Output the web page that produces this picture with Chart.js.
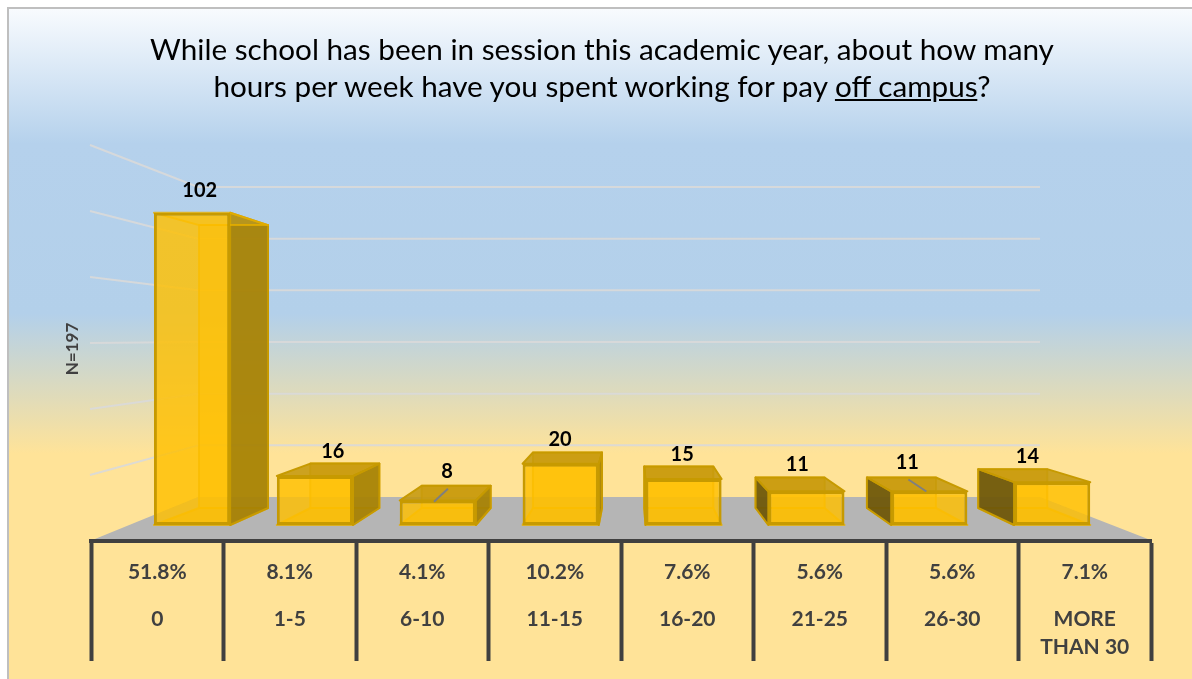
<!DOCTYPE html>
<html>
<head>
<meta charset="utf-8">
<script src="https://cdn.jsdelivr.net/npm/chart.js@4"></script>
<style>
  html, body { margin: 0; background: #fff; }
  #panel {
    position: absolute; left: 7px; top: 7px; width: 1185px; height: 672px;
    box-sizing: border-box; border: solid #bfbfbf; border-width: 2px 0 0 2px;
    background: linear-gradient(to bottom, #f8fbfe 0, #b5d1ec 135px, #b3d0ea 305px, #ffe398 445px, #ffe398 100%);
  }
  #title {
    position: absolute; left: 7px; top: 30px; width: 1190px; margin: 0;
    font: 400 29.7px/37px Lato, sans-serif; color: #000; text-align: center;
  }
  canvas { position: absolute; left: 0; top: 0; }
</style>
</head>
<body>
<div id="panel"></div>
<canvas id="myChart" width="1192" height="679"></canvas>
<h1 id="title">While school has been in session this academic year, about how many<br>hours per week have you spent working for pay <u>off campus</u>?</h1>
<script>
const categories = ["0", "1-5", "6-10", "11-15", "16-20", "21-25", "26-30", ["MORE", "THAN 30"]];
const percentLabels = ["51.8%", "8.1%", "4.1%", "10.2%", "7.6%", "5.6%", "5.6%", "7.1%"];
const counts = [102, 16, 8, 20, 15, 11, 11, 14];
const gridValues = [20, 40, 60, 80, 100, 120];

// label tweaks per bar, relative to the middle of the box top
const labelNudge = [[-13, -22], [3, -12], [0, -14], [-4, -13], [1, -12], [-1, -13], [-8, -15], [-5, -13]];
const leaders = { 2: [-13, 30], 6: [19, 29] };

// fake perspective: the back of each box is the front scaled towards this point
const vanish = { x: 633, y: 344, s: 0.906 };
function toBack(x, y) {
  return [vanish.x + (x - vanish.x) * vanish.s, vanish.y + (y - vanish.y) * vanish.s];
}

function poly(ctx, pts, fill, stroke) {
  ctx.beginPath();
  pts.forEach((p, i) => (i ? ctx.lineTo(p[0], p[1]) : ctx.moveTo(p[0], p[1])));
  ctx.closePath();
  if (fill) { ctx.fillStyle = fill; ctx.fill(); }
  if (stroke) { ctx.strokeStyle = stroke; ctx.lineWidth = 2; ctx.stroke(); }
}

const scene = {
  id: "scene",
  // bars sit on a narrower strip than the table under them
  afterLayout(chart) {
    const xb = chart.scales.xBars;
    xb.left = 130.6; xb.right = 1113.6; xb.width = xb.right - xb.left;
    xb.configure();
    const y = chart.scales.y;
    y.top = 173; y.bottom = 525; y.height = y.bottom - y.top;
    y.configure();
  },
  beforeDatasetsDraw(chart) {
    const ctx = chart.ctx;
    ctx.save();
    ctx.lineJoin = "round";
    // floor
    poly(ctx, [[90, 541], [198, 497], [1040, 497], [1153, 541]], "#b5b5b5");
    // left wall + back wall lines
    ctx.strokeStyle = "rgba(217,217,217,0.9)";
    ctx.lineWidth = 2;
    gridValues.forEach((v) => {
      const wallY = 541 - v * 3.3, backY = 497 - v * 2.583;
      ctx.beginPath();
      ctx.moveTo(90, wallY);
      ctx.lineTo(198, backY);
      ctx.lineTo(1040, backY);
      ctx.stroke();
    });
    // box faces behind the front one
    const edge = "#c79a00";
    chart.getDatasetMeta(0).data.forEach((bar) => {
      const l = bar.x - bar.width / 2, r = bar.x + bar.width / 2;
      const t = bar.y, b = bar.base;
      const fl = [l, b], fr = [r, b], tl = [l, t], tr = [r, t];
      const bl = toBack(l, b), br = toBack(r, b), btl = toBack(l, t), btr = toBack(r, t);
      poly(ctx, [btl, btr, br, bl], "rgba(255,192,0,0.55)", "rgba(230,175,0,0.8)");
      poly(ctx, [fl, fr, br, bl], "rgba(240,180,10,0.6)", "rgba(230,175,0,0.8)");
      if (btr[0] > r) poly(ctx, [tr, btr, br, fr], "rgba(160,125,5,0.88)", edge);
      if (btl[0] < l) poly(ctx, [tl, btl, bl, fl], "rgba(100,80,10,0.88)", edge);
      if (btl[1] < t) poly(ctx, [tl, tr, btr, btl], "rgba(195,150,10,0.85)", edge);
      else poly(ctx, [tl, tr, btr, btl], "rgba(245,190,20,0.25)", "rgba(230,175,0,0.8)");
    });
    ctx.restore();
  },
  afterDatasetsDraw(chart) {
    const ctx = chart.ctx;
    ctx.save();
    ctx.font = "700 20px Lato, sans-serif";
    ctx.fillStyle = "#000";
    ctx.textAlign = "center";
    ctx.textBaseline = "middle";
    chart.getDatasetMeta(0).data.forEach((bar, i) => {
      const l = bar.x - bar.width / 2, r = bar.x + bar.width / 2;
      const a = toBack(l, bar.y), c = toBack(r, bar.y);
      const x = (l + r + a[0] + c[0]) / 4 + labelNudge[i][0];
      const y = Math.min(bar.y, a[1]) + labelNudge[i][1];
      ctx.fillText(counts[i], x, y);
      if (leaders[i]) {
        ctx.strokeStyle = "#7f7f7f";
        ctx.lineWidth = 2;
        ctx.beginPath();
        ctx.moveTo(x + 1, y + 17);
        ctx.lineTo(x + leaders[i][0], y + leaders[i][1]);
        ctx.stroke();
      }
    });
    ctx.restore();
  },
};

function tableAxis(labels, weight, rowHeight, labelPadding, border) {
  return {
    type: "category",
    position: "bottom",
    labels: labels,
    weight: weight,
    offset: true,
    afterFit: (scale) => { scale.height = rowHeight; },
    grid: { offset: true, drawOnChartArea: false, tickLength: rowHeight, tickWidth: 4, tickColor: "#404040" },
    border: border,
    ticks: {
      autoSkip: false, maxRotation: 0, padding: labelPadding, color: "#404040",
      font: { family: "Lato, sans-serif", size: 21, weight: "700", lineHeight: 1.33 },
    },
  };
}

new Chart(document.getElementById("myChart").getContext("2d"), {
  type: "bar",
  data: {
    labels: categories,
    datasets: [{
      data: counts,
      xAxisID: "xBars",
      yAxisID: "y",
      categoryPercentage: 1,
      barPercentage: 0.62,
      backgroundColor: "rgba(255,192,0,0.82)",
      borderColor: "#c79a00",
      borderWidth: 3,
      borderSkipped: false,
    }],
  },
  options: {
    responsive: false,
    animation: false,
    layout: { padding: { left: 62, right: 41, top: 145, bottom: 18 } },
    plugins: { legend: { display: false }, tooltip: { enabled: false } },
    scales: {
      xBars: { type: "category", display: false, offset: true, labels: categories },
      xPct: tableAxis(percentLabels, 1, 54, -37, { display: true, color: "#404040", width: 4, z: 1 }),
      xCat: tableAxis(categories, 2, 66, -56, { display: false }),
      y: {
        min: 0,
        max: 115,
        afterFit: (scale) => { scale.width = 29; },
        grid: { display: false },
        border: { display: false },
        ticks: { display: false },
        title: { display: true, text: "N=197", color: "#404040", padding: 0, font: { family: "Lato, sans-serif", size: 17, weight: "700" } },
      },
    },
  },
  plugins: [scene],
});
</script>
</body>
</html>
